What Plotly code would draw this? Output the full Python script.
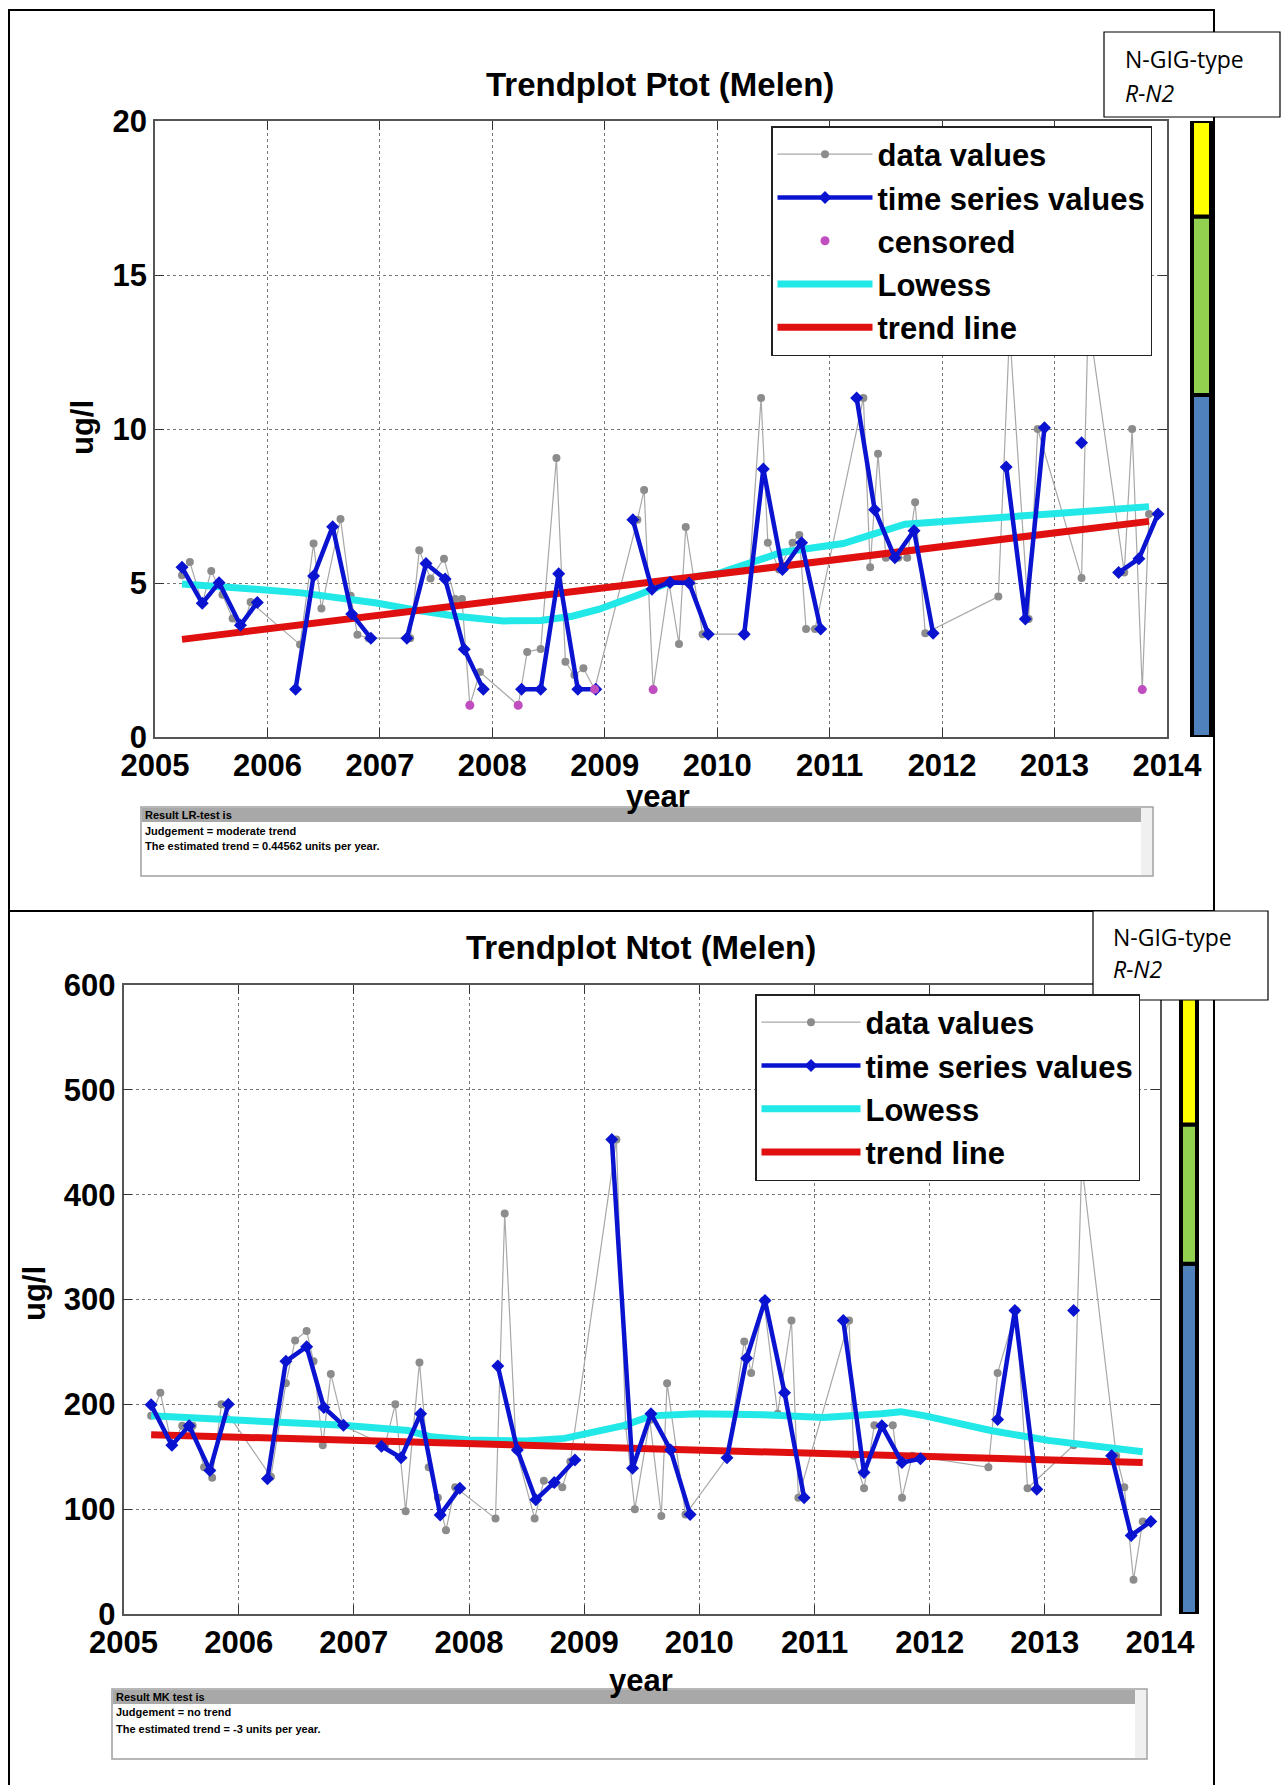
import plotly.graph_objects as go

W, H = 1282, 1785

# ---------------- Ptot (top panel) ----------------
p_data_x = [2005.24, 2005.31, 2005.42, 2005.50, 2005.60, 2005.69, 2005.77, 2005.85,
            2006.29, 2006.41, 2006.48, 2006.65, 2006.74, 2006.80, 2006.90,
            2007.27, 2007.35, 2007.45, 2007.57, 2007.67, 2007.73, 2007.80, 2007.89,
            2008.23, 2008.31, 2008.43, 2008.57, 2008.65, 2008.73, 2008.81, 2008.91,
            2009.29, 2009.35, 2009.43, 2009.57, 2009.66, 2009.72, 2009.87,
            2010.25, 2010.39, 2010.45, 2010.55, 2010.67, 2010.73, 2010.79, 2010.87,
            2011.30, 2011.36, 2011.43, 2011.50, 2011.61, 2011.69, 2011.76, 2011.85,
            2012.50, 2012.60, 2012.77, 2012.85, 2013.24, 2013.30, 2013.62, 2013.69,
            2013.78, 2013.84]
p_data_y = [5.25, 5.68, 4.34, 5.39, 4.62, 3.85, 3.42, 4.38,
            3.00, 6.28, 4.17, 7.08, 4.59, 3.32, 3.21,
            3.21, 6.06, 5.15, 5.79, 4.48, 4.48, 1.03, 2.11,
            1.03, 2.76, 2.86, 9.06, 2.44, 2.01, 2.23, 1.55,
            7.05, 8.02, 1.54, 5.02, 3.02, 6.82, 3.34,
            3.34, 11.01, 6.31, 5.44, 6.31, 6.56, 3.51, 3.51,
            11.01, 5.51, 9.20, 5.82, 5.82, 5.82, 7.62, 3.37,
            4.56, 13.2, 3.83, 10.0, 5.16, 13.6, 5.34, 10.0,
            1.54, 7.24]

p_ts_x = [2005.24, 2005.42, 2005.57, 2005.76, 2005.91, None,
          2006.25, 2006.41, 2006.58, 2006.75, 2006.92, None,
          2007.24, 2007.41, 2007.58, 2007.75, 2007.92, None,
          2008.26, 2008.43, 2008.59, 2008.76, 2008.92, None,
          2009.25, 2009.42, 2009.58, 2009.75, 2009.92, None,
          2010.24, 2010.41, 2010.58, 2010.75, 2010.92, None,
          2011.24, 2011.40, 2011.58, 2011.75, 2011.92, None,
          2012.57, 2012.74, 2012.91, None,
          2013.24, None,
          2013.57, 2013.75, 2013.92]
p_ts_y = [5.51, 4.34, 5.01, 3.63, 4.37, None,
          1.55, 5.23, 6.83, 3.99, 3.21, None,
          3.21, 5.63, 5.13, 2.85, 1.55, None,
          1.55, 1.55, 5.30, 1.55, 1.55, None,
          7.05, 4.80, 5.02, 5.00, 3.34, None,
          3.34, 8.70, 5.44, 6.31, 3.51, None,
          11.01, 7.38, 5.82, 6.70, 3.37, None,
          8.77, 3.83, 10.04, None,
          9.55, None,
          5.34, 5.79, 7.24]

p_cens_x = [2007.80, 2008.23, 2008.91, 2009.43, 2013.78]
p_cens_y = [1.03, 1.03, 1.55, 1.54, 1.54]

p_lowess_x = [2005.24, 2005.60, 2005.90, 2006.30, 2006.60, 2006.97, 2007.30, 2007.68,
              2008.10, 2008.43, 2008.71, 2008.95, 2009.29, 2009.56, 2009.83, 2010.00,
              2010.58, 2011.12, 2011.67, 2012.29, 2013.02, 2013.84]
p_lowess_y = [4.97, 4.85, 4.80, 4.68, 4.55, 4.35, 4.13, 3.92,
              3.77, 3.78, 3.92, 4.15, 4.60, 5.00, 5.22, 5.30,
              6.00, 6.28, 6.91, 7.05, 7.26, 7.48]

p_trend_x = [2005.24, 2013.84]
p_trend_y = [3.17, 7.00]

p_class_bounds = [0, 11.1, 16.9, 20]

# ---------------- Ntot (bottom panel) ----------------
n_data_x = [2005.24, 2005.32, 2005.42, 2005.51, 2005.60, 2005.70, 2005.77, 2005.85,
            2006.28, 2006.41, 2006.49, 2006.59, 2006.65, 2006.73, 2006.80, 2006.91,
            2007.27, 2007.36, 2007.45, 2007.57, 2007.65, 2007.73, 2007.80, 2007.88,
            2008.23, 2008.31, 2008.41, 2008.57, 2008.65, 2008.73, 2008.81, 2008.88,
            2009.28, 2009.36, 2009.44, 2009.57, 2009.67, 2009.72, 2009.88,
            2010.24, 2010.39, 2010.45, 2010.56, 2010.68, 2010.80, 2010.86,
            2011.30, 2011.34, 2011.43, 2011.52, 2011.68, 2011.76, 2011.85,
            2012.51, 2012.59, 2012.75, 2012.85,
            2013.25, 2013.32, 2013.62, 2013.69, 2013.77, 2013.85]
n_data_y = [189, 211, 161, 179.5, 179.5, 140, 130, 200,
            131, 220, 261, 270, 241, 161, 229, 179.5,
            161, 200, 98, 240, 140, 111, 80, 121,
            91, 382, 156.5, 91, 127, 124, 121, 145.5,
            452.7, 179.5, 100, 185, 93.5, 220, 95,
            149, 260, 230, 299, 191, 280, 111,
            280, 151, 120, 180, 180, 111, 151,
            140, 230, 289.5, 120,
            161, 430, 151, 121, 32.6, 88.3]

n_ts_x = [2005.24, 2005.42, 2005.57, 2005.75, 2005.91, None,
          2006.25, 2006.41, 2006.59, 2006.74, 2006.91, None,
          2007.24, 2007.41, 2007.58, 2007.75, 2007.92, None,
          2008.25, 2008.42, 2008.58, 2008.74, 2008.92, None,
          2009.24, 2009.42, 2009.58, 2009.75, 2009.92, None,
          2010.24, 2010.41, 2010.57, 2010.74, 2010.91, None,
          2011.25, 2011.43, 2011.585, 2011.76, 2011.92, None,
          2012.59, 2012.74, 2012.93, None,
          2013.25, None,
          2013.58, 2013.75, 2013.92]
n_ts_y = [199.5, 161, 179.5, 137, 200, None,
          129, 241, 255, 197, 180, None,
          160, 149, 191, 94.5, 120, None,
          236.6, 156.5, 109, 125.5, 147, None,
          452.7, 139, 191, 156.5, 95, None,
          149, 244, 299, 211, 111, None,
          280, 135, 179.5, 144.5, 148, None,
          185.6, 289.5, 119, None,
          289.5, None,
          151, 75, 88.3]

n_lowess_x = [2005.24, 2005.91, 2006.91, 2007.47, 2007.67, 2008.00, 2008.50, 2008.83,
              2009.35, 2009.58, 2009.98, 2010.56, 2011.08, 2011.58, 2011.75, 2011.96,
              2012.53, 2013.03, 2013.85]
n_lowess_y = [189, 186, 180, 175, 169, 166, 165, 167.5,
              180, 189, 191, 190, 187.5, 191, 193, 189,
              175, 165.6, 154.7]

n_trend_x = [2005.24, 2013.85]
n_trend_y = [171, 144.5]

n_class_bounds = [0, 334, 467, 600]

class_colors = ['#4f81bd', '#92d050', '#ffff00']
year_ticks = list(range(2005, 2015))
p_y_ticks = [0, 5, 10, 15, 20]
n_y_ticks = [0, 100, 200, 300, 400, 500, 600]

legend_labels = ['data values', 'time series values', 'censored', 'Lowess', 'trend line']

BOLD = dict(family='Liberation Sans, Arial, sans-serif', color='black', weight='bold')


def px(x):
    return x / W


def py(y):
    return 1 - y / H


fig = go.Figure()


def add_panel(xa, ya, leg, dx, dy, tx, ty, lx, ly, rx, ry, cx=None, cy=None):
    fig.add_trace(go.Scatter(x=dx, y=dy, xaxis=xa, yaxis=ya, legend=leg, name=legend_labels[0],
                             mode='lines+markers', legendrank=1,
                             line=dict(color='#a8a8a8', width=1.2),
                             marker=dict(color='#8c8c8c', size=8)))
    fig.add_trace(go.Scatter(x=lx, y=ly, xaxis=xa, yaxis=ya, legend=leg, name=legend_labels[3],
                             mode='lines', legendrank=4, line=dict(color='#22e8e8', width=7)))
    fig.add_trace(go.Scatter(x=rx, y=ry, xaxis=xa, yaxis=ya, legend=leg, name=legend_labels[4],
                             mode='lines', legendrank=5, line=dict(color='#e01010', width=7)))
    fig.add_trace(go.Scatter(x=tx, y=ty, xaxis=xa, yaxis=ya, legend=leg, name=legend_labels[1],
                             mode='lines+markers', legendrank=2, connectgaps=False,
                             line=dict(color='#0a14d0', width=4.5),
                             marker=dict(color='#0a14d0', size=10, symbol='diamond')))
    if cx is not None:
        fig.add_trace(go.Scatter(x=cx, y=cy, xaxis=xa, yaxis=ya, legend=leg, name=legend_labels[2],
                                 mode='markers', legendrank=3,
                                 marker=dict(color='#c04ec0', size=9)))


add_panel('x', 'y', 'legend', p_data_x, p_data_y, p_ts_x, p_ts_y,
          p_lowess_x, p_lowess_y, p_trend_x, p_trend_y, p_cens_x, p_cens_y)
add_panel('x2', 'y2', 'legend2', n_data_x, n_data_y, n_ts_x, n_ts_y,
          n_lowess_x, n_lowess_y, n_trend_x, n_trend_y)

axis_style = dict(showline=True, linecolor='#555555', linewidth=1.5, mirror='ticks',
                  ticks='inside', ticklen=9, tickcolor='#333333', tickwidth=1.2,
                  showgrid=True, gridcolor='#777777', griddash='dot', gridwidth=1,
                  zeroline=False, automargin=False, tickfont=dict(size=31, **BOLD))

fig.update_layout(
    width=W, height=H,
    margin=dict(l=0, r=0, t=0, b=0, pad=0, autoexpand=False),
    paper_bgcolor='white', plot_bgcolor='white',
    xaxis=dict(domain=[px(155), px(1167)], range=[2005, 2014], tickvals=year_ticks,
               ticktext=[str(t) for t in year_ticks], anchor='y', **axis_style),
    yaxis=dict(domain=[py(737), py(121)], range=[0, 20], tickvals=p_y_ticks,
               anchor='x', **axis_style),
    xaxis2=dict(domain=[px(123.5), px(1160)], range=[2005, 2014], tickvals=year_ticks,
                ticktext=[str(t) for t in year_ticks], anchor='y2', **axis_style),
    yaxis2=dict(domain=[py(1614), py(985)], range=[0, 600], tickvals=n_y_ticks,
                anchor='x2', **axis_style),
    legend=dict(x=px(771), y=py(126), xanchor='left', yanchor='top',
                bgcolor='white', bordercolor='#222222', borderwidth=1.5,
                font=dict(size=31, **BOLD), itemwidth=95, tracegroupgap=0),
    legend2=dict(x=px(755), y=py(994), xanchor='left', yanchor='top',
                 bgcolor='white', bordercolor='#222222', borderwidth=1.5,
                 font=dict(size=31, **BOLD), itemwidth=99, tracegroupgap=0),
)

shapes = []
# panel frames
shapes.append(dict(type='rect', xref='paper', yref='paper', x0=px(9), x1=px(1214),
                   y0=py(911), y1=py(10), line=dict(color='black', width=2)))
for xline in (9, 1214):
    shapes.append(dict(type='line', xref='paper', yref='paper', x0=px(xline), x1=px(xline),
                       y0=py(911), y1=0, line=dict(color='black', width=2)))

# result list boxes
for (x0, y0, x1, y1) in [(141, 807, 1153, 876), (112, 1689, 1147, 1759)]:
    shapes.append(dict(type='rect', xref='paper', yref='paper', x0=px(x0), x1=px(x1),
                       y0=py(y1), y1=py(y0), fillcolor='white',
                       line=dict(color='#a0a0a0', width=1.5)))
    shapes.append(dict(type='rect', xref='paper', yref='paper', x0=px(x1 - 12), x1=px(x1 - 1),
                       y0=py(y1 - 1), y1=py(y0 + 1), fillcolor='#f0f0f0', line=dict(width=0)))
    shapes.append(dict(type='rect', xref='paper', yref='paper', x0=px(x0 + 1), x1=px(x1 - 12),
                       y0=py(y0 + 15), y1=py(y0 + 1), fillcolor='#a8a8a8', line=dict(width=0)))

# class bars
for yref, bounds, bx0, bx1 in [('y', p_class_bounds, 1192, 1211), ('y2', n_class_bounds, 1181, 1197)]:
    for i, col in enumerate(class_colors):
        shapes.append(dict(type='rect', xref='paper', yref=yref, x0=px(bx0), x1=px(bx1),
                           y0=bounds[i], y1=bounds[i + 1], fillcolor=col,
                           line=dict(color='black', width=4), layer='above'))

# type boxes
for (x0, y0, x1, y1) in [(1104, 32, 1280, 117), (1093, 911, 1268, 1000)]:
    shapes.append(dict(type='rect', xref='paper', yref='paper', x0=px(x0), x1=px(x1),
                       y0=py(y1), y1=py(y0), fillcolor='white',
                       line=dict(color='black', width=1.2), layer='above'))

annotations = []


def note(text, x, y, size, xanchor='center', angle=0, bold=True, family=None, color='black'):
    f = dict(size=size, color=color,
             family=family or 'Liberation Sans, Arial, sans-serif')
    if bold:
        f['weight'] = 'bold'
    annotations.append(dict(text=text, x=px(x), y=py(y), xref='paper', yref='paper',
                            xanchor=xanchor, yanchor='middle', showarrow=False,
                            textangle=angle, font=f))


note('Trendplot Ptot (Melen)', 660, 84, 33)
note('Trendplot Ntot (Melen)', 641, 947, 33)
note('year', 658, 797, 31)
note('year', 641, 1680, 31)
note('ug/l', 82, 428, 31, angle=-90)
note('ug/l', 34, 1294, 31, angle=-90)

box_font = 'Liberation Sans Narrow, Liberation Sans, Arial, sans-serif'
for (x0, lines, ys) in [(143, ['Result LR-test is', 'Judgement = moderate trend',
                               'The estimated trend = 0.44562 units per year.'], (815, 831, 846)),
                        (114, ['Result MK test is', 'Judgement = no trend',
                               'The estimated trend = -3 units per year.'], (1697, 1712, 1729))]:
    for t, yy in zip(lines, ys):
        note(t, x0, yy, 11, xanchor='left', family=box_font)

for (x0, y1, y2) in [(1123, 59, 93), (1111, 937, 969)]:
    note('N-GIG-type', x0, y1, 23, xanchor='left', bold=False, family='Open Sans, sans-serif')
    note('<i>R-N2</i>', x0, y2, 23, xanchor='left', bold=False, family='Open Sans, sans-serif')

fig.update_layout(shapes=shapes, annotations=annotations)

fig.write_html("out.html", config={'displayModeBar': False},
               post_script="document.body.style.margin='0';")
